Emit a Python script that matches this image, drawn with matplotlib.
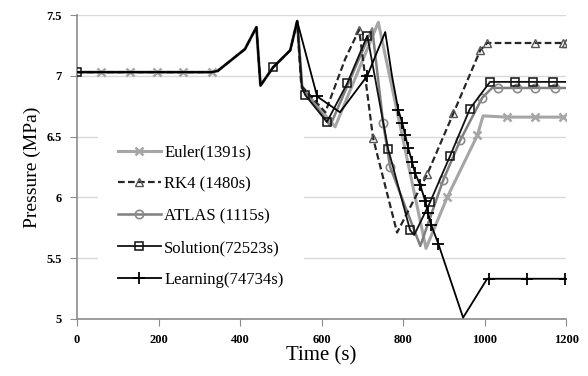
import matplotlib
matplotlib.use('Agg')
import matplotlib.pyplot as plt

# common start of all runs (s, MPa)
t_common = [0, 60, 130, 195, 260, 330, 345, 412, 440, 450, 481, 523, 540]
p_common = [7.03, 7.03, 7.03, 7.03, 7.03, 7.03, 7.04, 7.22, 7.40, 6.92, 7.07, 7.21, 7.45]

# Euler
t_euler = t_common + [552, 633, 739, 856, 908, 982, 996, 1055, 1124, 1193, 1200]
p_euler = p_common + [6.90, 6.58, 7.44, 5.58, 6.00, 6.51, 6.67, 6.66, 6.66, 6.66, 6.66]
mk_euler = [1, 2, 3, 4, 5, 17, 18, 20, 21, 22]

# RK4
t_rk4 = t_common + [550, 609, 658, 692, 726, 785, 859, 923, 989, 1006, 1055, 1124, 1193, 1200]
p_rk4 = p_common + [6.92, 6.70, 7.14, 7.38, 6.49, 5.71, 6.19, 6.69, 7.21, 7.27, 7.27, 7.27, 7.27, 7.27]
mk_rk4 = [16, 17, 19, 20, 21, 22, 24, 25, 26]

# ATLAS
t_atlas = t_common + [552, 621, 724, 751, 768, 842, 898, 940, 994, 1018, 1033, 1080, 1124, 1173, 1200]
p_atlas = p_common + [6.90, 6.59, 7.39, 6.61, 6.25, 5.60, 6.14, 6.47, 6.82, 6.90, 6.90, 6.90, 6.90, 6.90, 6.90]
mk_atlas = [16, 17, 19, 20, 21, 23, 24, 25, 26]

# Solution
t_sol = t_common + [552, 560, 613, 663, 712, 763, 817, 827, 866, 915, 964, 1013, 1075, 1119, 1168, 1200]
p_sol = p_common + [6.90, 6.84, 6.62, 6.94, 7.33, 6.40, 5.73, 5.69, 5.96, 6.34, 6.73, 6.95, 6.95, 6.95, 6.95, 6.95]
mk_sol = [0, 10, 14, 15, 16, 17, 18, 19, 21, 22, 23, 24, 25, 26, 27]

# Learning
t_learn = t_common + [589, 645, 712, 756, 773, 788, 798, 805, 812, 822, 829, 842, 854, 861, 869, 886,
                      947, 1006, 1010, 1104, 1198, 1200]
p_learn = p_common + [6.83, 6.70, 7.00, 7.36, 6.99, 6.72, 6.61, 6.51, 6.41, 6.29, 6.20, 6.10, 5.97, 5.87, 5.77, 5.62,
                      5.01, 5.33, 5.33, 5.33, 5.33, 5.33]
mk_learn = [13, 15] + list(range(18, 29)) + [31, 32, 33]

plt.rcParams['font.family'] = ['Liberation Serif', 'DejaVu Serif']

fig = plt.figure(figsize=(5.88, 3.76), dpi=100)
ax = fig.add_axes([0.131, 0.152, 0.832, 0.808])

ax.plot(t_euler, p_euler, color='#a6a6a6', lw=2.2, marker='x', ms=6, mew=1.8,
        markevery=mk_euler, label='Euler(1391s)', zorder=3)
ax.plot(t_rk4, p_rk4, color='#262626', lw=1.6, ls=(0, (3, 1.5)), marker='^', ms=6,
        mfc='none', mec='#555555', mew=1.0, markevery=mk_rk4, label='RK4 (1480s)', zorder=4)
ax.plot(t_atlas, p_atlas, color='#7f7f7f', lw=1.8, marker='o', ms=6, mfc='none',
        mec='#8a8a8a', mew=1.2, markevery=mk_atlas, label='ATLAS (1115s)', zorder=3)
ax.plot(t_sol, p_sol, color='#111111', lw=1.3, marker='s', ms=6, mfc='none', mew=1.1,
        markevery=mk_sol, label='Solution(72523s)', zorder=5)
ax.plot(t_learn, p_learn, color='black', lw=1.3, marker='+', ms=9, mew=1.3,
        markevery=mk_learn, label='Learning(74734s)', zorder=6)

ax.set_xlim(0, 1200)
ax.set_ylim(5, 7.5)
ax.set_xticks(range(0, 1201, 200))
ax.set_yticks([5, 5.5, 6, 6.5, 7, 7.5])
ax.set_yticklabels(['5', '5.5', '6', '6.5', '7', '7.5'])
ax.grid(axis='y', color='#d9d9d9', lw=1.0)
ax.set_axisbelow(True)
for s in ['top', 'right']:
    ax.spines[s].set_visible(False)
for s in ['left', 'bottom']:
    ax.spines[s].set_color('#8c8c8c')
    ax.spines[s].set_linewidth(1.2)
ax.tick_params(axis='both', direction='out', length=5, color='#8c8c8c', labelsize=9, pad=6)
for lab in ax.get_xticklabels() + ax.get_yticklabels():
    lab.set_fontweight('bold')

ax.set_xlabel('Time (s)', fontsize=15, labelpad=0)
ax.set_ylabel('Pressure (MPa)', fontsize=14, labelpad=4)

leg = ax.legend(loc='upper left', bbox_to_anchor=(0.042, 0.64), frameon=True, fontsize=12,
                handlelength=2.6, handletextpad=0.2, labelspacing=0.95, borderaxespad=0,
                borderpad=1.2)
leg.get_frame().set_facecolor('white')
leg.get_frame().set_edgecolor('none')
leg.get_frame().set_alpha(1)
leg.set_zorder(10)

fig.savefig('out.png', dpi=100)
